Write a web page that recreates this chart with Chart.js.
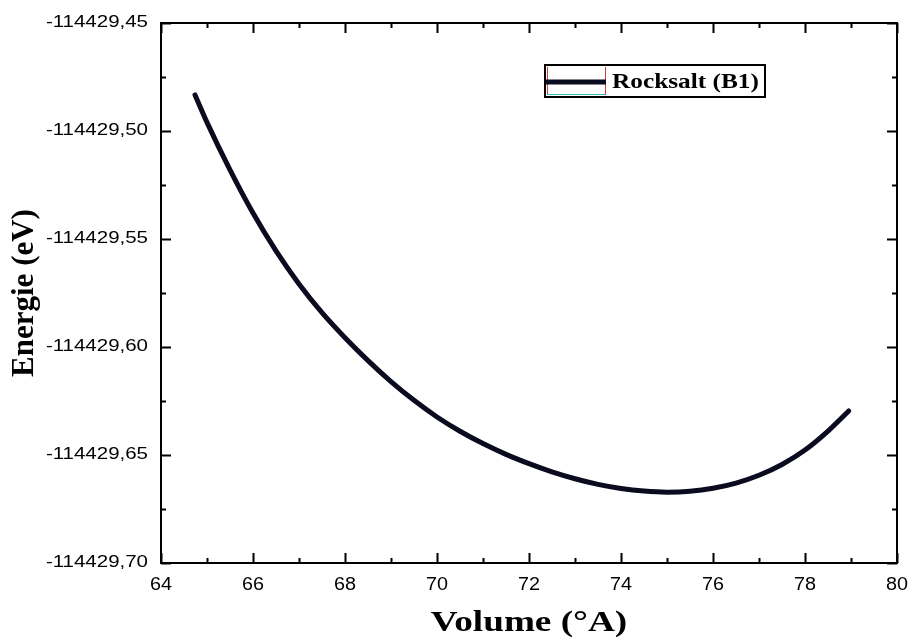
<!DOCTYPE html>
<html>
<head>
<meta charset="utf-8">
<script src="https://cdn.jsdelivr.net/npm/chart.js@4/dist/chart.umd.min.js"></script>
<style>
  html, body { margin: 0; padding: 0; background: #fff; }
  #wrap { width: 908px; height: 644px; position: relative; }
</style>
</head>
<body>
<div id="wrap"><canvas id="c"></canvas></div>
<script>
// ---- data ----
const seriesLabel = 'Rocksalt (B1)';
const volumes = [64.74, 65.0, 65.5, 66.0, 66.5, 67.0, 67.5, 68.0, 68.5, 69.0, 69.5, 70.0, 70.5, 71.0, 71.5, 72.0, 72.5, 73.0, 73.5, 74.0, 74.5, 75.0, 75.5, 76.0, 76.5, 77.0, 77.5, 78.0, 78.5, 78.95];
const energies = [-114429.4833, -114429.4960, -114429.5180, -114429.5380, -114429.5555, -114429.5708, -114429.5841, -114429.5957, -114429.6063, -114429.6160, -114429.6247, -114429.6324, -114429.6390, -114429.6447, -114429.6497, -114429.6540, -114429.6578, -114429.6610, -114429.6636, -114429.6655, -114429.6667, -114429.6672, -114429.6668, -114429.6654, -114429.6630, -114429.6594, -114429.6544, -114429.6477, -114429.6389, -114429.6296];
const xTicks = [64, 66, 68, 70, 72, 74, 76, 78, 80];
const yTicks = [-114429.70, -114429.65, -114429.60, -114429.55, -114429.50, -114429.45];
const xTitle = 'Volume (°A)';
const yTitle = 'Energie (eV)';

const points = volumes.map((v, i) => ({ x: v, y: energies[i] }));

function midpoints(arr) {
  const out = [];
  for (let i = 0; i < arr.length - 1; i++) out.push((arr[i] + arr[i + 1]) / 2);
  return out;
}

// the reference's text is horizontally stretched; emulate it per text style
function stretchFor(font) {
  if (/\b16px/.test(font)) return 1.28;   // y tick labels
  if (/\b18px/.test(font)) return 1.1;    // x tick labels
  if (/\b30px/.test(font)) return 1.24;   // x title
  if (/\b22px/.test(font)) return 1.15;   // legend text
  return 1;
}
function patchCtx(ctx) {
  if (ctx.__patched) return;
  ctx.__patched = true;
  const f = ctx.fillText;
  ctx.fillText = function (t, x, y) {
    const s = stretchFor(this.font);
    if (s === 1) return f.call(this, t, x, y);
    this.save();
    this.translate(x, y);
    this.scale(s, 1);
    f.call(this, t, 0, 0);
    this.restore();
  };
}
const stretchPlugin = {
  id: 'stretch',
  beforeInit(chart) { patchCtx(chart.ctx); },
  beforeUpdate(chart) { patchCtx(chart.ctx); }
};

const framePlugin = {
  id: 'frame',
  afterDraw(chart) {
    const ctx = chart.ctx;
    const a = chart.chartArea;
    const xs = chart.scales.x, ys = chart.scales.y;
    ctx.save();
    ctx.strokeStyle = '#000';
    ctx.lineWidth = 2;
    ctx.strokeRect(a.left, a.top, a.right - a.left, a.bottom - a.top);
    ctx.beginPath();
    const major = 10, minor = 5;
    xTicks.forEach(v => {
      const px = Math.round(xs.getPixelForValue(v)) + 0.5;
      ctx.moveTo(px, a.bottom); ctx.lineTo(px, a.bottom - major);
      ctx.moveTo(px, a.top); ctx.lineTo(px, a.top + major);
    });
    midpoints(xTicks).forEach(v => {
      const px = Math.round(xs.getPixelForValue(v)) + 0.5;
      ctx.moveTo(px, a.bottom); ctx.lineTo(px, a.bottom - minor);
      ctx.moveTo(px, a.top); ctx.lineTo(px, a.top + minor);
    });
    yTicks.forEach(v => {
      const py = Math.round(ys.getPixelForValue(v)) + 0.5;
      ctx.moveTo(a.left, py); ctx.lineTo(a.left + major, py);
      ctx.moveTo(a.right, py); ctx.lineTo(a.right - major, py);
    });
    midpoints(yTicks).forEach(v => {
      const py = Math.round(ys.getPixelForValue(v)) + 0.5;
      ctx.moveTo(a.left, py); ctx.lineTo(a.left + minor, py);
      ctx.moveTo(a.right, py); ctx.lineTo(a.right - minor, py);
    });
    ctx.stroke();

    // legend box
    const lx = a.left + 384, ly = a.top + 42, lw = 220, lh = 32, sw = 60;
    ctx.fillStyle = '#fff';
    ctx.fillRect(lx, ly, lw, lh);
    ctx.lineWidth = 1;
    ctx.strokeStyle = '#d04040';
    ctx.beginPath();
    ctx.moveTo(lx + 2.5, ly + 2); ctx.lineTo(lx + 2.5, ly + lh - 2);
    ctx.moveTo(lx + sw + 0.5, ly + 2); ctx.lineTo(lx + sw + 0.5, ly + lh - 2);
    ctx.stroke();
    ctx.strokeStyle = '#30c0c0';
    ctx.beginPath();
    ctx.moveTo(lx + 2, ly + lh - 2.5); ctx.lineTo(lx + sw, ly + lh - 2.5);
    ctx.stroke();
    ctx.strokeStyle = '#0b0b1f';
    ctx.lineWidth = 5;
    ctx.beginPath();
    ctx.moveTo(lx + 1, ly + 17); ctx.lineTo(lx + sw + 1, ly + 17);
    ctx.stroke();
    ctx.strokeStyle = '#000';
    ctx.lineWidth = 2;
    ctx.strokeRect(lx, ly, lw, lh);
    ctx.fillStyle = '#000';
    ctx.font = 'bold 22px "Liberation Serif", "Times New Roman", serif';
    ctx.textAlign = 'left';
    ctx.textBaseline = 'middle';
    ctx.fillText(seriesLabel, lx + sw + 7, ly + lh / 2 + 1);
    ctx.restore();
  }
};

new Chart(document.getElementById('c'), {
  type: 'line',
  data: {
    datasets: [{
      label: seriesLabel,
      data: points,
      borderColor: '#0b0b1f',
      borderWidth: 5,
      pointRadius: 0,
      fill: false,
      cubicInterpolationMode: 'monotone',
      borderCapStyle: 'round',
      borderJoinStyle: 'round'
    }]
  },
  plugins: [stretchPlugin, framePlugin],
  options: {
    responsive: true,
    maintainAspectRatio: false,
    animation: false,
    devicePixelRatio: 1,
    layout: { padding: { top: 23, right: 11, left: 0, bottom: 0 } },
    plugins: {
      legend: { display: false },
      tooltip: { enabled: false }
    },
    scales: {
      x: {
        type: 'linear',
        min: 64, max: 80,
        afterBuildTicks(scale) { scale.ticks = xTicks.map(v => ({ value: v })); },
        afterFit(scale) { scale.height = 81; scale.paddingRight = 0; scale.paddingLeft = 0; },
        grid: { display: false, drawTicks: false },
        border: { display: false },
        ticks: {
          color: '#000',
          padding: 11,
          maxRotation: 0,
          font: { family: '"Liberation Sans", Arial, sans-serif', size: 18 },
          callback: v => String(v)
        },
        title: {
          display: true,
          text: xTitle,
          color: '#000',
          font: { family: '"Liberation Serif", "Times New Roman", serif', size: 30, weight: 'bold' },
          padding: { top: 4, bottom: 3 }
        }
      },
      y: {
        type: 'linear',
        min: -114429.70, max: -114429.45,
        afterBuildTicks(scale) { scale.ticks = yTicks.map(v => ({ value: v })); },
        afterFit(scale) { scale.width = 161; scale.paddingTop = 0; scale.paddingBottom = 0; },
        grid: { display: false, drawTicks: false },
        border: { display: false },
        ticks: {
          color: '#000',
          padding: 13,
          font: { family: '"Liberation Sans", Arial, sans-serif', size: 16 },
          callback: v => Number(v).toFixed(2).replace('.', ',')
        },
        title: {
          display: true,
          text: yTitle,
          color: '#000',
          font: { family: '"Liberation Serif", "Times New Roman", serif', size: 31, weight: 'bold' },
          padding: { top: 6, bottom: 0 }
        }
      }
    }
  }
});
</script>
</body>
</html>
